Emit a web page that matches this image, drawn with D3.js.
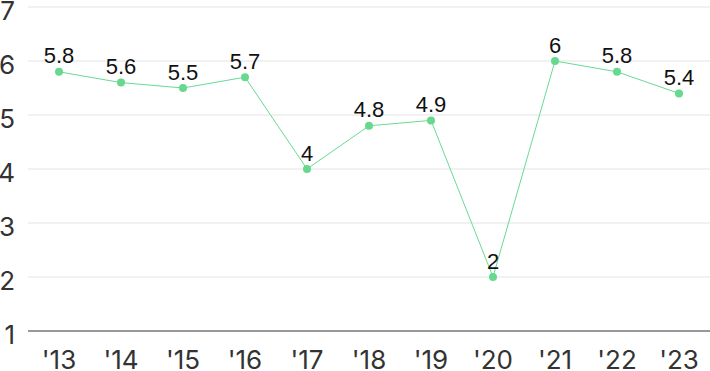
<!DOCTYPE html>
<html>
<head>
<meta charset="utf-8">
<script src="https://d3js.org/d3.v7.min.js"></script>
<style>
  body { margin: 0; background: #fff; }
  svg { display: block; font-family: Inter, "Noto Sans", sans-serif; }
</style>
</head>
<body>
<svg width="710" height="371"></svg>
<script>
const years = ["'13", "'14", "'15", "'16", "'17", "'18", "'19", "'20", "'21", "'22", "'23"];
const values = [5.8, 5.6, 5.5, 5.7, 4, 4.8, 4.9, 2, 6, 5.8, 5.4];
const yTicks = [1, 2, 3, 4, 5, 6, 7];

const svg = d3.select("svg");
const plotLeft = 28, plotRight = 710, plotTop = 7, plotBottom = 331;

const x = d3.scalePoint().domain(years).range([plotLeft, plotRight]).padding(0.5);
const y = d3.scaleLinear().domain([1, 7]).range([plotBottom, plotTop]);

// grid
svg.append("g").selectAll("line")
  .data(yTicks.filter(d => d > 1))
  .join("line")
  .attr("x1", plotLeft).attr("x2", plotRight)
  .attr("y1", d => y(d)).attr("y2", d => y(d))
  .attr("stroke", "#e3e3e3").attr("stroke-width", 1);

svg.append("line")
  .attr("x1", plotLeft).attr("x2", plotRight)
  .attr("y1", y(1)).attr("y2", y(1))
  .attr("stroke", "#333").attr("stroke-width", 1);

// y labels
svg.append("g").selectAll("text")
  .data(yTicks)
  .join("text")
  .attr("x", 15).attr("y", d => y(d) + 12.5)
  .attr("text-anchor", "end")
  .attr("font-size", 26)
  .attr("fill", "#333")
  .text(d => d);

// x labels
svg.append("g").selectAll("text")
  .data(years)
  .join("text")
  .attr("x", d => x(d)).attr("y", 369)
  .attr("text-anchor", "middle")
  .attr("font-size", 26)
  .attr("fill", "#333")
  .text(d => d);

const line = d3.line().x((d, i) => x(years[i])).y(d => y(d));
svg.append("path")
  .datum(values)
  .attr("d", line)
  .attr("fill", "none")
  .attr("stroke", "#6ad994")
  .attr("stroke-width", 1);

svg.append("g").selectAll("circle")
  .data(values)
  .join("circle")
  .attr("cx", (d, i) => x(years[i]))
  .attr("cy", d => y(d))
  .attr("r", 4)
  .attr("fill", "#66d98e");

svg.append("g").selectAll("text")
  .data(values)
  .join("text")
  .attr("x", (d, i) => x(years[i]))
  .attr("y", d => y(d) - 8.5)
  .attr("text-anchor", "middle")
  .attr("font-family", "'Liberation Sans', Arial, sans-serif")
  .attr("font-size", 22)
  .attr("fill", "#111")
  .text(d => d);
</script>
</body>
</html>
